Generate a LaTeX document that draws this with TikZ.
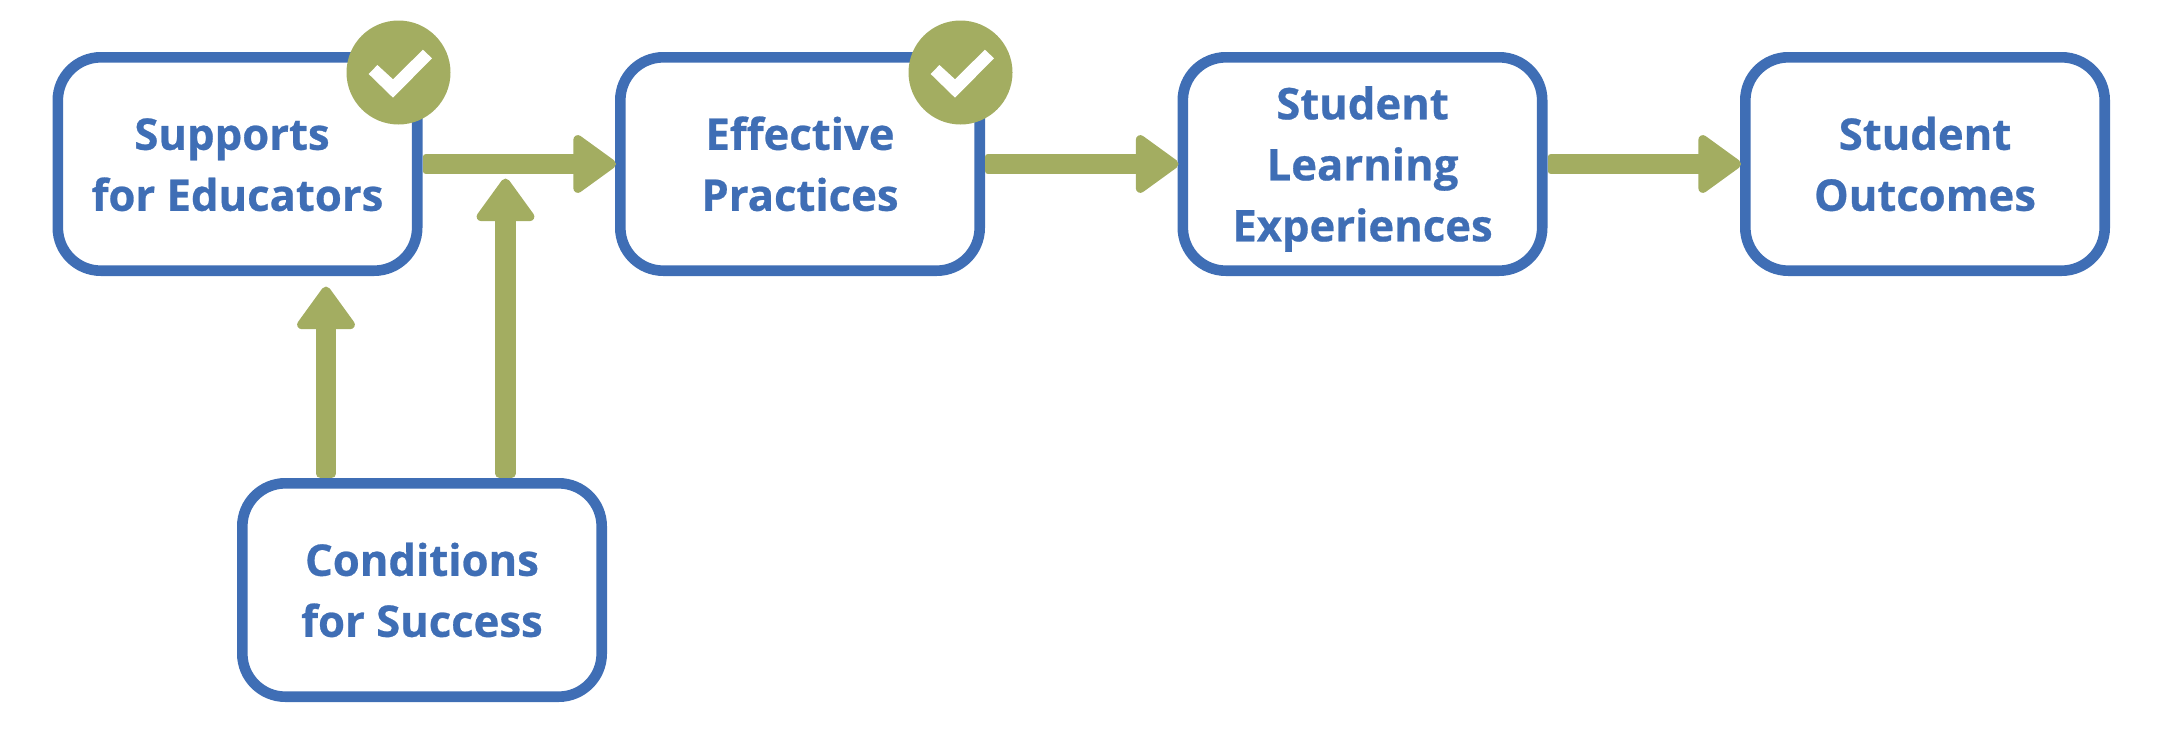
\documentclass[tikz,border=0pt]{standalone}
\usepackage{fontspec}
\setmainfont[BoldFeatures={FakeBold=0.6}]{Open Sans}
\usetikzlibrary{arrows.meta}
\definecolor{boxblue}{HTML}{3F6EB5}
\definecolor{leaf}{HTML}{A3AD61}
\newcommand{\lnstrut}{\rule[-12.4pt]{0pt}{57.4pt}}
\tikzset{
  stage/.style={draw=boxblue,line width=10.6pt,rounded corners=43pt,fill=white,
    minimum width=359.4pt,minimum height=213.4pt,inner sep=0pt,align=center,
    text=boxblue,font=\bfseries\fontsize{43.6}{61}\selectfont},
  badge/.style={circle,fill=leaf,minimum size=104pt,inner sep=0pt},
  tick/.style={fill=white},
  link/.style={draw=leaf,line width=20.5pt,shorten >=-1pt,
    {Square[length=12pt,width=20.5pt,round,line width=10pt]}-{Triangle[length=46pt,width=64pt,round,line width=9pt]}},
  uplink/.style={draw=leaf,line width=20.5pt,
    {Square[length=18pt,width=20.5pt,round,line width=16pt]}-{Triangle[length=46pt,width=64pt,round,line width=9pt]}}
}
\begin{document}
\begin{tikzpicture}[x=1pt,y=-1pt]
\useasboundingbox (0,0) rectangle (2160,755);
\node[stage] (b1) at (237.5,164) {\lnstrut Supports\rule{11pt}{0pt}\\\lnstrut for Educators};
\node[stage] (b2) at (800,164) {\lnstrut Effective\\\lnstrut Practices};
\node[stage] (b3) at (1362.5,164) {\lnstrut Student\\\lnstrut Learning\\\lnstrut Experiences};
\node[stage] (b4) at (1925,164) {\lnstrut Student\\\lnstrut Outcomes};
\node[stage] (b5) at (422,590) {\lnstrut Conditions\\\lnstrut for Success};
\coordinate (t1) at (326,286.5);
\coordinate (t2) at (505.5,178.5);
\draw[link] (b1.east) -- (b2.west);
\draw[link] (b2.east) -- (b3.west);
\draw[link] (b3.east) -- (b4.west);
\draw[uplink] (t1 |- b5.north) -- (t1);
\draw[uplink] (t2 |- b5.north) -- (t2);
\node[badge] (c1) at (398.5,72.5) {};
\node[badge] (c2) at (960.5,72.5) {};
\foreach \c in {c1,c2}{
  \fill[tick,shift={(\c)}] (-29.8,1.5) -- (-21.1,-7.5) -- (-5.5,6.8) -- (24.4,-22.8) -- (33.5,-14.2) -- (-5.5,25.2) -- cycle;
}
\end{tikzpicture}
\end{document}
